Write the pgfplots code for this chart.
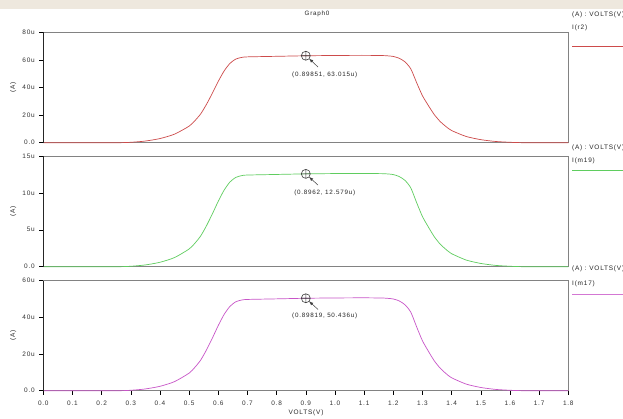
\documentclass[border=0pt]{standalone}
\usepackage{pgfplots}
\pgfplotsset{compat=1.18}
\usepackage{pgfplotstable}
\usepackage{fontspec}
\setmainfont{Liberation Sans}[LetterSpace=12]
\definecolor{cred}{RGB}{205,75,75}
\definecolor{cgreen}{RGB}{95,205,95}
\definecolor{cmag}{RGB}{200,85,200}
\definecolor{frame}{RGB}{130,130,130}
\definecolor{band}{RGB}{238,232,222}

\pgfplotstableread{
v i
0.00 0
0.25 0
0.30 0.3
0.35 1.2
0.40 3.0
0.45 6.2
0.50 12.0
0.52 16.0
0.54 21.0
0.56 28.0
0.58 36.0
0.60 44.5
0.62 52.0
0.64 57.5
0.66 60.6
0.68 61.8
0.70 62.2
0.80 62.6
0.90 63.0
1.00 63.2
1.10 63.3
1.17 63.1
1.20 62.5
1.22 61.2
1.24 58.6
1.26 53.5
1.28 43.5
1.30 34.0
1.32 27.0
1.34 20.5
1.36 15.5
1.38 11.8
1.40 8.8
1.45 4.5
1.50 2.2
1.55 0.9
1.60 0.3
1.65 0
1.80 0
}\dataA

\pgfplotstableread{
v i
0.00 0
0.25 0
0.30 0.06
0.35 0.24
0.40 0.60
0.45 1.24
0.50 2.40
0.52 3.19
0.54 4.19
0.56 5.59
0.58 7.19
0.60 8.88
0.62 10.38
0.64 11.48
0.66 12.10
0.68 12.34
0.70 12.42
0.80 12.50
0.90 12.58
1.00 12.62
1.10 12.63
1.17 12.60
1.20 12.48
1.22 12.22
1.24 11.70
1.26 10.68
1.28 8.68
1.30 6.79
1.32 5.39
1.34 4.09
1.36 3.09
1.38 2.36
1.40 1.76
1.45 0.90
1.50 0.44
1.55 0.18
1.60 0.06
1.65 0
1.80 0
}\dataB

\pgfplotstableread{
v i
0.00 0
0.25 0
0.30 0.24
0.35 0.96
0.40 2.40
0.45 4.96
0.50 9.60
0.52 12.81
0.54 16.81
0.56 22.41
0.58 28.81
0.60 35.62
0.62 41.62
0.64 46.02
0.66 48.50
0.68 49.47
0.70 49.78
0.80 50.10
0.90 50.43
1.00 50.59
1.10 50.67
1.17 50.51
1.20 50.03
1.22 48.98
1.24 46.90
1.26 42.82
1.28 34.82
1.30 27.21
1.32 21.61
1.34 16.41
1.36 12.41
1.38 9.44
1.40 7.04
1.45 3.60
1.50 1.76
1.55 0.72
1.60 0.24
1.65 0
1.80 0
}\dataC

\pgfplotsset{
  panel/.style={
    scale only axis, width=525bp, anchor=south west,
    xmin=0, xmax=1.8,
    axis line style={frame, line width=0.6bp},
    tick pos=left, tick align=outside,
    major tick length=4bp,
    tick style={black, line width=0.6bp},
    ticklabel style={font=\fontsize{6.5}{7}\selectfont, text=black!80},
    yticklabel style={xshift=-1bp},
    clip=false,
  },
}

\begin{document}
\begin{tikzpicture}[x=1bp,y=1bp]
\useasboundingbox (0,0) rectangle (623,418);
\fill[white] (0,0) rectangle (623,418);
\fill[band] (0,409) rectangle (623,418);

% Panel 1
\begin{axis}[panel, at={(43.3bp,275.3bp)}, height=110.4bp,
  ymin=0, ymax=80, xtick=\empty,
  ytick={0,20,40,60,80}, yticklabels={0.0,20u,40u,60u,80u}]
\addplot[cred, line width=0.7bp, smooth, tension=0.4] table[x=v,y=i] {\dataA};
\addplot[only marks, mark=oplus, mark size=4.5bp, mark options={draw=black!75, fill=none, line width=0.6bp}] coordinates {(0.9,63.015)};
\draw[-latex, black!75, line width=0.5bp] (axis cs:0.942,54.8) -- (axis cs:0.911,61.0);
\node[font=\fontsize{6.3}{7}\selectfont, text=black!85] at (axis cs:0.965,49.5) {(0.89851, 63.015u)};
\draw[black!85, line width=1.5bp] (rel axis cs:0,0) -- (rel axis cs:0,1);
\end{axis}

% Panel 2
\begin{axis}[panel, at={(43.3bp,151.3bp)}, height=110.7bp,
  ymin=0, ymax=15, xtick=\empty,
  ytick={0,5,10,15}, yticklabels={0.0,5u,10u,15u}]
\addplot[cgreen, line width=0.7bp, smooth, tension=0.4] table[x=v,y=i] {\dataB};
\addplot[only marks, mark=oplus, mark size=4.5bp, mark options={draw=black!75, fill=none, line width=0.6bp}] coordinates {(0.9,12.579)};
\draw[-latex, black!75, line width=0.5bp] (axis cs:0.942,11.05) -- (axis cs:0.911,12.17);
\node[font=\fontsize{6.3}{7}\selectfont, text=black!85] at (axis cs:0.965,10.0) {(0.8962, 12.579u)};
\draw[black!85, line width=1.5bp] (rel axis cs:0,0) -- (rel axis cs:0,1);
\end{axis}

% Panel 3
\begin{axis}[panel, at={(43.3bp,27.3bp)}, height=110bp,
  ymin=0, ymax=60,
  ytick={0,20,40,60}, yticklabels={0.0,20u,40u,60u},
  xtick={0,0.1,0.2,0.3,0.4,0.5,0.6,0.7,0.8,0.9,1.0,1.1,1.2,1.3,1.4,1.5,1.6,1.7,1.8},
  xticklabels={0.0,0.1,0.2,0.3,0.4,0.5,0.6,0.7,0.8,0.9,1.0,1.1,1.2,1.3,1.4,1.5,1.6,1.7,1.8},
  xticklabel style={yshift=-3bp}]
\addplot[cmag, line width=0.7bp, smooth, tension=0.4] table[x=v,y=i] {\dataC};
\addplot[only marks, mark=oplus, mark size=4.5bp, mark options={draw=black!75, fill=none, line width=0.6bp}] coordinates {(0.9,50.436)};
\draw[-latex, black!75, line width=0.5bp] (axis cs:0.942,44.3) -- (axis cs:0.911,48.8);
\node[font=\fontsize{6.3}{7}\selectfont, text=black!85] at (axis cs:0.965,40.9) {(0.89819, 50.436u)};
\draw[black!85, line width=1.5bp] (rel axis cs:0,0) -- (rel axis cs:0,1);
\end{axis}

% Titles and labels
\node[font=\fontsize{6.3}{7}\selectfont, text=black!85] at (317,404) {Graph0};
\node[font=\fontsize{6.5}{7}\selectfont, text=black!85] at (306,5) {VOLTS(V)};
\foreach \yy in {330.5, 206.5, 82.3} {
  \node[rotate=90, font=\fontsize{6.5}{7}\selectfont, text=black!85] at (13.3,\yy) {(A)};
}

% Legends
\node[anchor=west, font=\fontsize{6.5}{7}\selectfont, text=black!85, inner sep=0] at (572,403) {(A) : VOLTS(V)};
\node[anchor=west, font=\fontsize{6.5}{7}\selectfont, text=black!85, inner sep=0] at (572,390.5) {I(r2)};
\draw[cred, line width=0.8bp] (572,371.5) -- (623,371.5);

\node[anchor=west, font=\fontsize{6.5}{7}\selectfont, text=black!85, inner sep=0] at (572,270) {(A) : VOLTS(V)};
\node[anchor=west, font=\fontsize{6.5}{7}\selectfont, text=black!85, inner sep=0] at (572,257.5) {I(m19)};
\draw[cgreen, line width=0.8bp] (572,247.5) -- (623,247.5);

\node[anchor=west, font=\fontsize{6.5}{7}\selectfont, text=black!85, inner sep=0] at (572,149.5) {(A) : VOLTS(V)};
\node[anchor=west, font=\fontsize{6.5}{7}\selectfont, text=black!85, inner sep=0] at (572,134) {I(m17)};
\draw[cmag!80, line width=0.8bp] (572,124) -- (623,124);
\end{tikzpicture}
\end{document}
